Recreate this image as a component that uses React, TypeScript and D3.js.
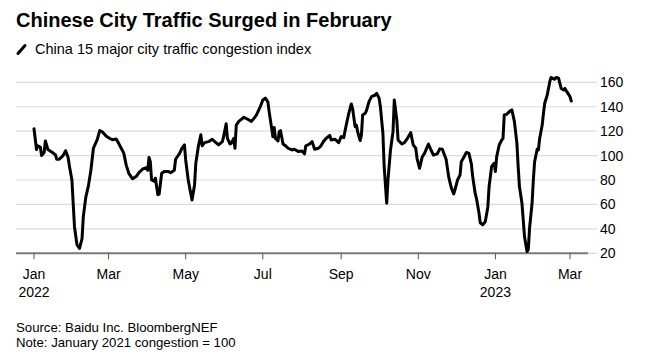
import React, { useEffect, useRef } from "react";
import * as d3 from "d3";

const dates: string[] = [
  "2022-01-01","2022-01-03","2022-01-04","2022-01-06","2022-01-07","2022-01-09","2022-01-10","2022-01-12","2022-01-15","2022-01-18",
  "2022-01-19","2022-01-21","2022-01-24","2022-01-26","2022-01-28","2022-01-29","2022-01-31","2022-02-01","2022-02-02","2022-02-04",
  "2022-02-06","2022-02-08","2022-02-09","2022-02-11","2022-02-13","2022-02-15","2022-02-17","2022-02-20","2022-02-22","2022-02-24",
  "2022-02-27","2022-03-02","2022-03-04","2022-03-07","2022-03-09","2022-03-11","2022-03-13","2022-03-15","2022-03-17","2022-03-20",
  "2022-03-23","2022-03-25","2022-03-28","2022-03-31","2022-04-01","2022-04-02","2022-04-03","2022-04-04","2022-04-06","2022-04-07",
  "2022-04-09","2022-04-10","2022-04-12","2022-04-14","2022-04-17","2022-04-19","2022-04-22","2022-04-23","2022-04-26","2022-04-28",
  "2022-04-30","2022-05-01","2022-05-03","2022-05-05","2022-05-06","2022-05-08","2022-05-09","2022-05-11","2022-05-13","2022-05-14",
  "2022-05-16","2022-05-19","2022-05-22","2022-05-24","2022-05-27","2022-05-30","2022-05-31","2022-06-02","2022-06-03","2022-06-05",
  "2022-06-06","2022-06-08","2022-06-09","2022-06-10","2022-06-12","2022-06-14","2022-06-16","2022-06-19","2022-06-22","2022-06-24",
  "2022-06-26","2022-06-29","2022-07-01","2022-07-03","2022-07-05","2022-07-06","2022-07-08","2022-07-09","2022-07-10","2022-07-11",
  "2022-07-13","2022-07-14","2022-07-15","2022-07-17","2022-07-19","2022-07-21","2022-07-24","2022-07-26","2022-07-29","2022-08-01",
  "2022-08-03","2022-08-04","2022-08-07","2022-08-09","2022-08-11","2022-08-14","2022-08-16","2022-08-18","2022-08-20","2022-08-23",
  "2022-08-24","2022-08-27","2022-08-30","2022-09-01","2022-09-03","2022-09-05","2022-09-07","2022-09-09","2022-09-10","2022-09-12",
  "2022-09-13","2022-09-14","2022-09-16","2022-09-17","2022-09-18","2022-09-20","2022-09-21","2022-09-23","2022-09-25","2022-09-28",
  "2022-09-29","2022-10-01","2022-10-02","2022-10-04","2022-10-05","2022-10-07","2022-10-08","2022-10-10","2022-10-12","2022-10-13",
  "2022-10-15","2022-10-16","2022-10-19","2022-10-21","2022-10-23","2022-10-26","2022-10-28","2022-10-30","2022-10-31","2022-11-02",
  "2022-11-04","2022-11-06","2022-11-09","2022-11-11","2022-11-13","2022-11-16","2022-11-18","2022-11-20","2022-11-23","2022-11-25",
  "2022-11-27","2022-11-29","2022-11-30","2022-12-02","2022-12-04","2022-12-05","2022-12-07","2022-12-09","2022-12-11","2022-12-13",
  "2022-12-14","2022-12-16","2022-12-17","2022-12-19","2022-12-20","2022-12-22","2022-12-24","2022-12-26","2022-12-27","2022-12-29",
  "2022-12-31","2023-01-01","2023-01-02","2023-01-04","2023-01-06","2023-01-07","2023-01-08","2023-01-10","2023-01-12","2023-01-14",
  "2023-01-16","2023-01-18","2023-01-19","2023-01-20","2023-01-22","2023-01-23","2023-01-24","2023-01-26","2023-01-27","2023-01-28",
  "2023-01-30","2023-01-31","2023-02-01","2023-02-03","2023-02-04","2023-02-05","2023-02-07","2023-02-08","2023-02-09","2023-02-11",
  "2023-02-13","2023-02-14","2023-02-15","2023-02-17","2023-02-18","2023-02-20","2023-02-22","2023-02-24","2023-02-25","2023-02-27",
  "2023-03-01","2023-03-02"
];

const congestion: number[] = [
  122,105,108,107,100,102.5,112,105,103,100.5,
  97,97,100,104,98.5,91.5,80,61,42,27,
  24,32,50,66,75,88,106,113,120.5,119.5,
  116,114,113,113.5,110,106,102,92,85.5,81,
  83,86,89,90,88,98.5,95,80,79,81.5,
  68,68.5,85.5,87,87,86,88,97,101.5,106,
  108.7,96.4,80,69,63.7,76,93.7,107.4,117,108,
  110.6,111.4,113.4,111.4,108.7,111.4,115.5,126,114,109.5,
  110,114,106,125,128,129.7,131.4,129.7,128,130.5,
  133.3,140,145.5,147,144,136,122.4,115.5,123,114,
  112,119.6,120.4,109.5,108,106,104.6,105.2,103.3,103.8,
  101.4,108,109.5,111.4,105.2,106,108,111.5,114,116.5,
  112.8,113.4,110.6,115.5,114.7,125,134.6,142.3,138.7,123.7,
  125,119.6,112.3,117,133.3,134.6,136.8,144.2,148.3,149.6,
  151,147,140,118.3,91,61,80,104.6,119.6,145.5,
  129.2,112.8,109.5,110.6,113.4,118.8,108.7,106,97.8,89.6,
  98.6,102,109.5,104.6,100.5,101.4,105.5,105.2,97,82.8,
  74,68.6,72,80,84,95,98.6,102.5,102,93,
  83,69,65,53,45,43.3,46,58,74.6,91,
  93.7,87,99.2,108.7,112.8,114,133.3,133.8,136,137.4,
  128,110,91,74.6,61,47.4,33.7,21.4,23,40.5,
  61,80,95,105.2,104.6,114,125,134.6,142.8,149.6,
  160.5,164,163.3,162.5,164,163.3,155,153.7,155,151.5,
  148.3,144.7
];

const yTicks: number[] = [20, 40, 60, 80, 100, 120, 140, 160];
const xTickDates: string[] = ["2022-01-01","2022-03-01","2022-05-01","2022-07-01","2022-09-01","2022-11-01","2023-01-01","2023-03-01"];
const xTickMonths: string[] = ["Jan","Mar","May","Jul","Sep","Nov","Jan","Mar"];
const xTickYears: string[] = ["2022","","","","","","2023",""];

const title = "Chinese City Traffic Surged in February";
const subtitle = "China 15 major city traffic congestion index";
const sourceText = "Source: Baidu Inc. BloombergNEF";
const noteText = "Note: January 2021 congestion = 100";

const W = 645;
const H = 356;
const FONT = "'Liberation Sans', Arial, Helvetica, sans-serif";

export default function App() {
  const ref = useRef<SVGSVGElement | null>(null);

  useEffect(() => {
    const svg = d3.select(ref.current);
    svg.selectAll("*").remove();
    const parse = d3.utcParse("%Y-%m-%d");
    const data = dates.map((d, i) => ({ date: parse(d) as Date, value: congestion[i] }));

    const x = d3.scaleUtc()
      .domain([parse("2022-01-01") as Date, parse("2023-03-01") as Date])
      .range([34, 570]);
    const y = d3.scaleLinear().domain([20, 160]).range([253.3, 82.3]);

    const gridLeft = 16;
    const gridRight = 597;
    const axisRight = 588;

    // gridlines
    svg.append("g")
      .selectAll("line")
      .data(yTicks)
      .join("line")
      .attr("x1", gridLeft)
      .attr("x2", gridRight)
      .attr("y1", (d) => y(d))
      .attr("y2", (d) => y(d))
      .attr("stroke", "#dcdcdc")
      .attr("stroke-width", 1.2);

    // y labels
    svg.append("g")
      .selectAll("text")
      .data(yTicks)
      .join("text")
      .attr("x", 600)
      .attr("y", (d) => y(d))
      .attr("dy", "0.36em")
      .attr("font-family", FONT)
      .attr("font-size", 14)
      .attr("fill", "#000")
      .text((d) => String(d));

    // x axis line
    svg.append("line")
      .attr("x1", gridLeft)
      .attr("x2", axisRight)
      .attr("y1", y(20))
      .attr("y2", y(20))
      .attr("stroke", "#7a7a7a")
      .attr("stroke-width", 2);

    const tickG = svg.append("g");
    xTickDates.forEach((ds, i) => {
      const xv = x(parse(ds) as Date);
      tickG.append("line")
        .attr("x1", xv).attr("x2", xv)
        .attr("y1", y(20)).attr("y2", y(20) + 6)
        .attr("stroke", "#555").attr("stroke-width", 1);
      tickG.append("text")
        .attr("x", xv).attr("y", 279)
        .attr("text-anchor", "middle")
        .attr("font-family", FONT).attr("font-size", 14)
        .attr("fill", "#000")
        .text(xTickMonths[i]);
      if (xTickYears[i]) {
        tickG.append("text")
          .attr("x", xv).attr("y", 297)
          .attr("text-anchor", "middle")
          .attr("font-family", FONT).attr("font-size", 14)
          .attr("fill", "#000")
          .text(xTickYears[i]);
      }
    });

    // line
    const line = d3.line<{ date: Date; value: number }>()
      .x((d) => x(d.date))
      .y((d) => y(d.value))
      .curve(d3.curveLinear);
    svg.append("path")
      .datum(data)
      .attr("d", line)
      .attr("fill", "none")
      .attr("stroke", "#000")
      .attr("stroke-width", 3)
      .attr("stroke-linejoin", "round")
      .attr("stroke-linecap", "round");

    // title
    svg.append("text")
      .attr("x", 16).attr("y", 27)
      .attr("font-family", FONT).attr("font-size", 20).attr("font-weight", "bold")
      .attr("fill", "#000")
      .text(title);

    // legend icon + subtitle
    svg.append("line")
      .attr("x1", 18).attr("y1", 53.5)
      .attr("x2", 25).attr("y2", 45.5)
      .attr("stroke", "#000").attr("stroke-width", 3)
      .attr("stroke-linecap", "round");
    svg.append("text")
      .attr("x", 35).attr("y", 54)
      .attr("font-family", FONT).attr("font-size", 14.5)
      .attr("fill", "#000")
      .text(subtitle);

    // footer
    svg.append("text")
      .attr("x", 16).attr("y", 332)
      .attr("font-family", FONT).attr("font-size", 13.2)
      .attr("fill", "#000")
      .text(sourceText);
    svg.append("text")
      .attr("x", 16).attr("y", 346.5)
      .attr("font-family", FONT).attr("font-size", 13.2)
      .attr("fill", "#000")
      .text(noteText);
  }, []);

  return (
    <svg
      ref={ref}
      width={W}
      height={H}
      style={{ position: "absolute", left: 0, top: 0, background: "#fff" }}
    />
  );
}
